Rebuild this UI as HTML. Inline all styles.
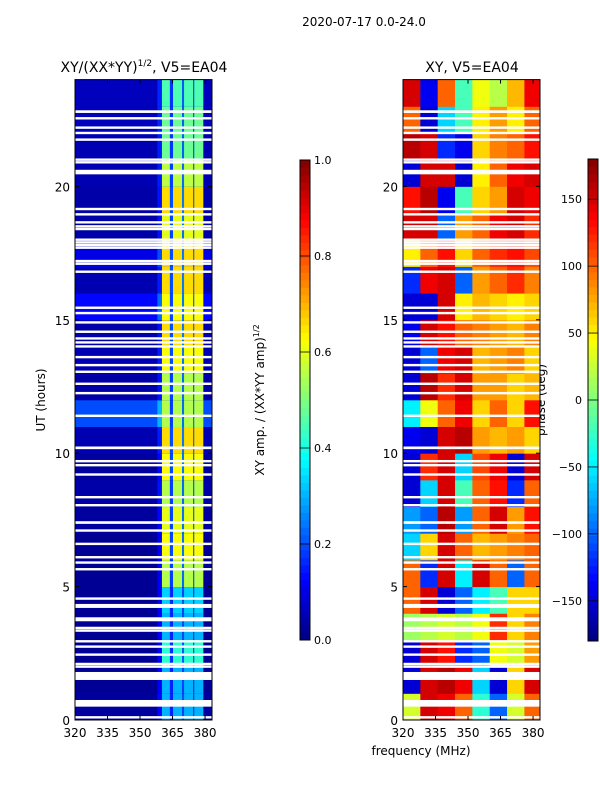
<!DOCTYPE html>
<html><head><meta charset="utf-8"><style>
body{margin:0;background:#fff;}
svg text{font-family:"DejaVu Sans","Liberation Sans",sans-serif;fill:#000;}
</style></head><body>
<svg id="fig" width="600" height="800" viewBox="0 0 600 800" xmlns="http://www.w3.org/2000/svg">
<text x="364" y="26" font-size="12" text-anchor="middle">2020-07-17 0.0-24.0</text>
<text x="144" y="72" font-size="14" text-anchor="middle">XY/(XX*YY)<tspan font-size="9" dy="-6">1/2</tspan><tspan dy="6">, V5=EA04</tspan></text>
<text x="472" y="72" font-size="14" text-anchor="middle">XY, V5=EA04</text>
<text transform="translate(45,400) rotate(-90)" font-size="12" text-anchor="middle">UT (hours)</text>
<text x="421" y="755" font-size="12" text-anchor="middle">frequency (MHz)</text>
<text transform="translate(264,400) rotate(-90)" font-size="12" text-anchor="middle">XY amp. / (XX*YY amp)<tspan font-size="8" dy="-5">1/2</tspan></text>
<text transform="translate(545,400) rotate(-90)" font-size="12" text-anchor="middle">phase (deg)</text>
<g id="left"></g>
<g id="right"></g>
<g id="cb"></g>
</svg>
<script>
// ---- data ----
const hours = [0,1,2,3,4,5,6,7,8,9,10,11,12,13,14,15,16,17,18,19,20,21,22,23];
const brightAmp = [0.3,0.3,0.42,0.3,0.33,0.55,0.62,0.6,0.55,0.62,0.66,0.55,0.55,0.62,0.66,0.62,0.66,0.66,0.6,0.66,0.56,0.48,0.48,0.45];
const baseAmp = [0.03,0.02,0.02,0.02,0.02,0.02,0.02,0.03,0.04,0.03,0.05,0.2,0.04,0.05,0.04,0.13,0.05,0.1,0.04,0.04,0.05,0.05,0.06,0.06];
const brightBands = [[360.1,363.8],[365.2,369.4],[370.3,374.5],[375.0,379.2]];
const bandGapAmp = [0.2,0.25,0.25];
const phaseFreqs = [320,328,336,344,352,360,368,376];
const phase = [
[30,150,140,100,-30,-100,30,100],
[-150,150,160,140,-60,-150,60,150],
[-150,150,130,-120,-100,40,30,80],
[10,20,30,20,40,120,60,90],
[100,150,-150,-100,-50,-20,60,60],
[100,-120,150,-50,150,100,-100,100],
[-60,60,150,100,70,80,90,100],
[-80,-100,160,-80,100,150,80,130],
[-150,-60,150,-20,100,130,-120,100],
[-150,120,150,-60,110,140,-150,150],
[-140,-150,150,160,80,70,80,60],
[-50,40,100,140,60,100,60,130],
[-150,160,120,150,80,80,60,70],
[-150,-100,140,150,70,80,90,60],
[-140,150,130,100,90,80,70,90],
[-150,-150,150,50,70,60,50,60],
[-120,140,150,-100,80,100,120,90],
[50,100,130,60,100,120,130,110],
[150,150,-100,80,100,140,150,120],
[130,160,-140,-20,60,80,150,140],
[-150,150,150,-150,50,100,140,150],
[160,150,-120,-140,60,90,100,130],
[100,-150,-60,-20,50,80,50,100],
[150,-140,100,-20,40,20,70,140]];
const gapLines = [0.1,2.0,2.1,2.45,2.75,2.95,3.35,3.45,4.55,5.65,5.9,6.1,6.6,7.1,8.05,8.35,9.2,9.55,9.7,11.4,12.25,12.6,13.05,13.3,13.6,14.0,14.15,14.3,14.55,14.9,15.25,15.45,16.8,17.1,17.2,17.7,17.8,17.9,18.0,18.4,18.5,18.65,18.95,19.15,20.9,21.0,21.75,22.0,22.2,22.55];
const gapBlocks = [[0.5,0.75],[1.5,1.8],[3.7,3.85],[4.2,4.35],[7.35,7.45],[10.15,10.25],[20.45,20.62],[22.75,22.85]];
const ampTicks = [0,0.2,0.4,0.6,0.8,1.0];
const phaseTicks = [-150,-100,-50,0,50,100,150];
const freqTicks = [320,335,350,365,380];
const hourTicks = [0,5,10,15,20];
// ---- helpers ----
const NS='http://www.w3.org/2000/svg';
function jet(v){v=Math.max(0,Math.min(1,v));
 const r=Math.min(Math.max(Math.min(4*v-1.5,-4*v+4.5),0),1);
 const g=Math.min(Math.max(Math.min(4*v-0.5,-4*v+3.5),0),1);
 const b=Math.min(Math.max(Math.min(4*v+0.5,-4*v+2.5),0),1);
 return `rgb(${Math.round(r*255)},${Math.round(g*255)},${Math.round(b*255)})`;}
function mk(tag,attrs,parent){const e=document.createElementNS(NS,tag);for(const k in attrs)e.setAttribute(k,attrs[k]);parent.appendChild(e);return e;}
const F0=320,F1=383.2,H0=0,H1=24,Y0=720,Y1=79.6;
function yS(h){return Y0+(h-H0)/(H1-H0)*(Y1-Y0);}
function xS(x0,f){return x0+(f-F0)/(F1-F0)*137;}
function drawAxes(g,x0){
 mk('rect',{x:x0,y:Y1,width:137,height:Y0-Y1,fill:'none',stroke:'#000','stroke-width':1},g);
 freqTicks.forEach(f=>{const x=xS(x0,f);
  mk('line',{x1:x,x2:x,y1:Y0,y2:Y0-4,stroke:'#000'},g);
  mk('line',{x1:x,x2:x,y1:Y1,y2:Y1+4,stroke:'#000'},g);
  const t=mk('text',{x:x,y:Y0+17,'font-size':12,'text-anchor':'middle'},g);t.textContent=f;
  
  });
 hourTicks.forEach(h=>{const y=yS(h);
  mk('line',{x1:x0,x2:x0+4,y1:y,y2:y,stroke:'#000'},g);
  mk('line',{x1:x0+137,x2:x0+133,y1:y,y2:y,stroke:'#000'},g);
  const t=mk('text',{x:x0-5,y:y+5,'font-size':12,'text-anchor':'end'},g);t.textContent=h;
  
  });}
function drawGaps(g,x0){
 gapLines.forEach(h=>{const r=mk('rect',{x:x0,y:yS(h)-1.2,width:137,height:2.4,fill:'#fff'},g);
  
  });
 gapBlocks.forEach(b=>{const r=mk('rect',{x:x0,y:yS(b[1]),width:137,height:yS(b[0])-yS(b[1]),fill:'#fff'},g);
  
  });}
// ---- left heatmap ----
const L=document.getElementById('left');
hours.forEach((h,i)=>{
 const yt=yS(h+1),yb=yS(h);
 const bg=mk('rect',{x:75,y:yt,width:137,height:yb-yt+0.5,fill:jet(baseAmp[i])},L);
 
 
 const tr=mk('rect',{x:xS(75,358),y:yt,width:xS(75,360.1)-xS(75,358),height:yb-yt+0.5,fill:jet(baseAmp[i]+0.1)},L);
 
 
 brightBands.forEach((b,j)=>{
  const c=mk('rect',{x:xS(75,b[0]),y:yt,width:xS(75,b[1])-xS(75,b[0]),height:yb-yt+0.5,fill:jet(brightAmp[i])},L);
  
  
  if(j<3){const nb=brightBands[j+1];
   const gp=mk('rect',{x:xS(75,b[1]),y:yt,width:xS(75,nb[0])-xS(75,b[1]),height:yb-yt+0.5,fill:jet(bandGapAmp[j]*(0.6+brightAmp[i]*0.6))},L);
   
   }
 });});
drawGaps(L,75);drawAxes(L,75);
// ---- right heatmap ----
const R=document.getElementById('right');
hours.forEach((h,i)=>{
 const yt=yS(h+1),yb=yS(h);
 phaseFreqs.forEach((f,j)=>{
  const f2=j+1<phaseFreqs.length?phaseFreqs[j+1]:F1;
  const c=mk('rect',{x:xS(403,f),y:yt,width:xS(403,f2)-xS(403,f)+0.5,height:yb-yt+0.5,fill:jet((phase[i][j]+180)/360)},R);
  
  });});
drawGaps(R,403);drawAxes(R,403);
// ---- colorbars ----
const CB=document.getElementById('cb');
function colorbar(x,y0,y1,ticks,vmin,vmax,labelRight,name){
 const g=mk('g',{},CB);
 
 
 const n=64,hh=(y1-y0)/n;
 for(let k=0;k<n;k++){mk('rect',{x:x,y:y1-(k+1)*hh,width:10,height:hh+0.4,fill:jet((k+0.5)/n)},g);}
 mk('rect',{x:x,y:y0,width:10,height:y1-y0,fill:'none',stroke:'#000'},g);
 ticks.forEach(v=>{const y=y1-(v-vmin)/(vmax-vmin)*(y1-y0);
  mk('line',{x1:x,x2:x+10,y1:y,y2:y,stroke:'#000','stroke-width':0.8},g);
  const t=mk('text',{x:labelRight?x+14:x-6,y:y+4,'font-size':11,'text-anchor':labelRight?'start':'end'},g);
  t.textContent=labelRight?v.toFixed(1):String(v).replace('-','\u2212');
  
  });}
colorbar(300,160,640,ampTicks,0,1,true,'amplitude-colorbar');
colorbar(588,159,641,phaseTicks,-180,180,false,'phase-colorbar');
</script>
</body></html>
